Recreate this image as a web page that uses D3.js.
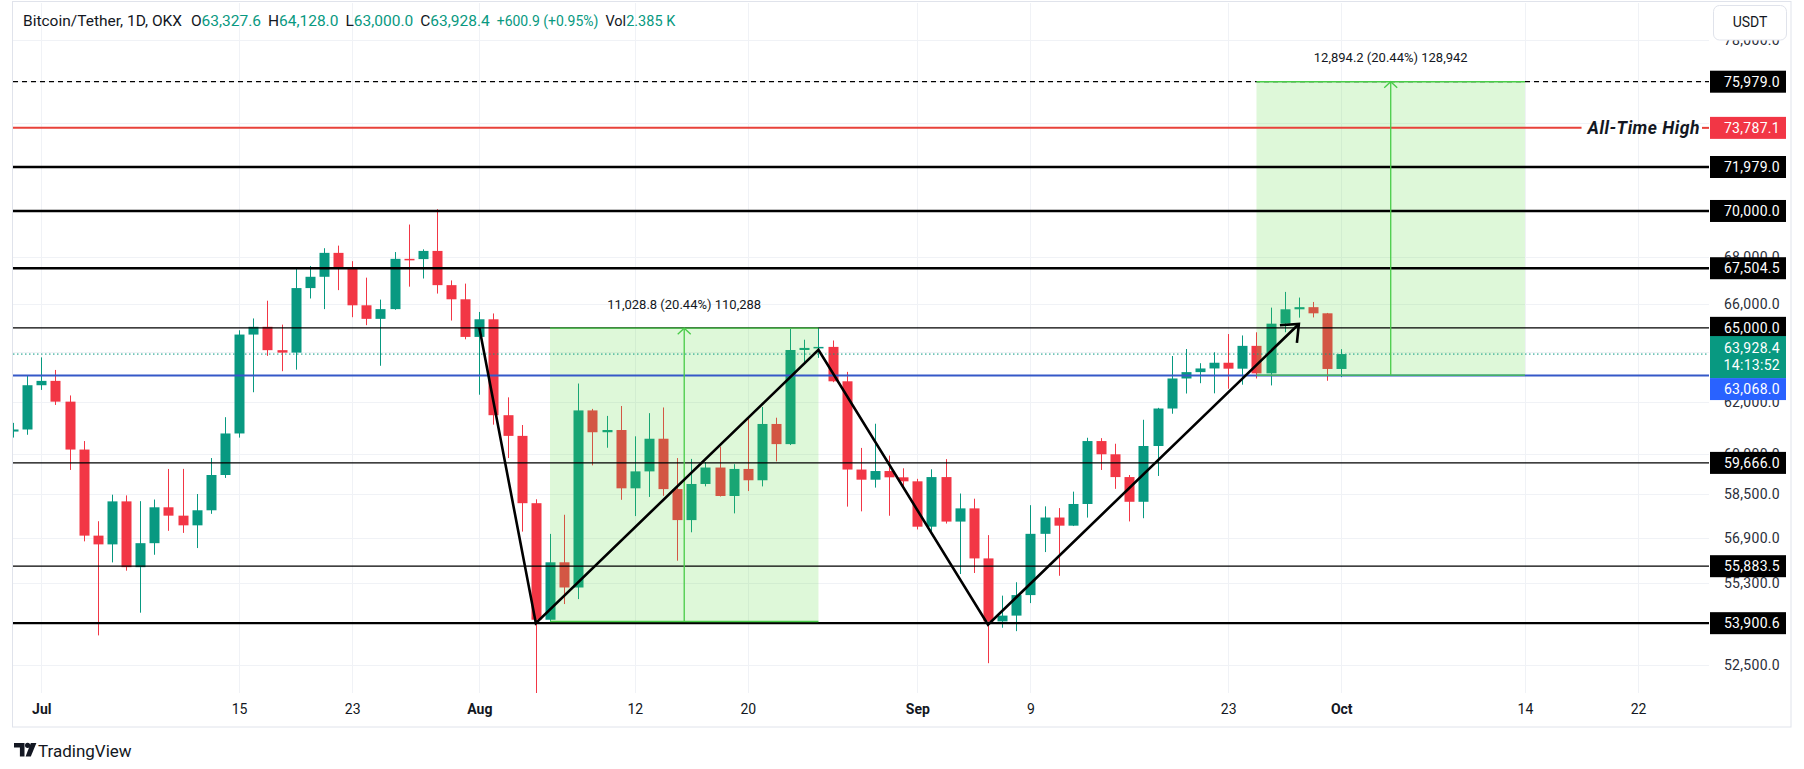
<!DOCTYPE html>
<html><head><meta charset="utf-8">
<script src="https://cdn.jsdelivr.net/npm/d3@7"></script>
<style>
body{margin:0;background:#fff;}
svg{display:block;font-family:Roboto,"Noto Sans",sans-serif;}
</style>
</head><body>
<svg id="chart" width="1804" height="769"></svg>
<script>
// ---------------- DATA ----------------
const dates = ["2024-06-29","2024-06-30","2024-07-01","2024-07-02","2024-07-03","2024-07-04","2024-07-05","2024-07-06","2024-07-07","2024-07-08","2024-07-09","2024-07-10","2024-07-11","2024-07-12","2024-07-13","2024-07-14","2024-07-15","2024-07-16","2024-07-17","2024-07-18","2024-07-19","2024-07-20","2024-07-21","2024-07-22","2024-07-23","2024-07-24","2024-07-25","2024-07-26","2024-07-27","2024-07-28","2024-07-29","2024-07-30","2024-07-31","2024-08-01","2024-08-02","2024-08-03","2024-08-04","2024-08-05","2024-08-06","2024-08-07","2024-08-08","2024-08-09","2024-08-10","2024-08-11","2024-08-12","2024-08-13","2024-08-14","2024-08-15","2024-08-16","2024-08-17","2024-08-18","2024-08-19","2024-08-20","2024-08-21","2024-08-22","2024-08-23","2024-08-24","2024-08-25","2024-08-26","2024-08-27","2024-08-28","2024-08-29","2024-08-30","2024-08-31","2024-09-01","2024-09-02","2024-09-03","2024-09-04","2024-09-05","2024-09-06","2024-09-07","2024-09-08","2024-09-09","2024-09-10","2024-09-11","2024-09-12","2024-09-13","2024-09-14","2024-09-15","2024-09-16","2024-09-17","2024-09-18","2024-09-19","2024-09-20","2024-09-21","2024-09-22","2024-09-23","2024-09-24","2024-09-25","2024-09-26","2024-09-27","2024-09-28","2024-09-29","2024-09-30","2024-10-01"];
const openP  = [60864,60943,62678,62851,62029,60173,56977,56662,58228,55849,56705,58010,57703,57350,57900,59210,60790,64724,65043,64087,63987,66660,67139,68165,67532,65936,65372,65777,67907,67896,68249,66784,66188,64628,65354,61498,60697,58161,54018,56022,55134,61685,60837,60923,58712,59346,60587,58683,57541,58874,59491,58427,59438,59013,61157,60381,64094,64178,64220,62834,59415,59034,59359,59123,58973,57301,59132,57487,57970,56160,53962,54160,54869,57042,57635,57338,58132,60498,59993,59132,58213,60309,61759,62947,63201,63348,63578,63339,64262,63152,65173,65769,65858,65602,63327.6];
const highP  = [61200,63058,63795,63288,62273,60498,57500,58475,58449,58236,58296,59437,59440,58500,59850,61420,64900,65388,66128,65133,67486,67598,68366,68479,67807,67102,66175,68200,69400,68318,70079,66984,66849,65659,65596,62198,61117,58305,57040,57736,62745,61744,61470,61858,60680,61578,61800,59849,59817,59700,60284,59618,61400,61820,61400,64955,64513,65000,64481,63212,60235,61166,59944,59462,59067,59425,59809,58519,58327,56995,54850,55318,58088,58044,57981,58588,60625,60610,60395,59210,61320,61786,63850,64133,63559,64000,64745,64688,64817,65839,66498,66260,66076,65618,64128.0];
const lowP   = [60632,60740,62492,61900,59400,56771,53485,56018,55724,54260,56290,57151,57076,56530,57770,59100,60630,62400,63856,63238,63300,66222,65777,66573,65441,65111,63456,65750,66720,67066,66428,65302,64530,62302,61130,59850,57122,49000,53962,54558,54730,59573,60242,58286,57688,58392,58433,56078,57098,58785,58408,57787,58610,58783,59724,60345,63520,63775,62800,58034,57861,58738,57700,58745,57201,57128,57415,55606,55643,52550,53745,53629,54591,56386,55545,57324,57632,59400,58692,57493,57610,59174,61555,62350,62758,62357,62538,62700,62947,62670,64819,65422,65432,62856,63000.0];
const closeP = [60943,62678,62851,62029,60173,56977,56662,58228,55849,56705,58010,57703,57350,57900,59210,60790,64724,65043,64087,63987,66660,67139,68165,67532,65936,65372,65777,67907,67896,68249,66784,66188,64628,65354,61498,60697,58161,54018,56022,55134,61685,60837,60923,58712,59346,60587,58683,57541,58874,59491,58427,59438,59013,61157,60381,64094,64178,64220,62834,59415,59034,59359,59123,58973,57301,59132,57487,57970,56160,53962,54160,54869,57042,57635,57338,58132,60498,59993,59132,58213,60309,61759,62947,63201,63348,63578,63339,64262,63152,65173,65769,65858,65602,63327.5,63928.4];

const priceTicks = [52500,53900,55300,56900,58500,60000,62000,64000,66000,68000,70000,72000,74000,76000,78000];
const timeTickDates  = ["2024-07-01","2024-07-15","2024-07-23","2024-08-01","2024-08-12","2024-08-20","2024-09-01","2024-09-09","2024-09-23","2024-10-01","2024-10-14","2024-10-22"];
const timeTickLabels = ["Jul","15","23","Aug","12","20","Sep","9","23","Oct","14","22"];
const monthLabels = ["Jul","Aug","Sep","Oct"];

// horizontal levels
const dashedLevel = 75979.0;
const thickLevels = [71979.0, 70000.0, 67504.5, 53900.6];
const thinLevels  = [65000.0, 59666.0, 55883.5];
const athPrice = 73787.1;
const athText = "All-Time High";
const blueLevel = 63068.0;
const countdown = "14:13:52";
const volumeText = "2.385 K";

// zig-zag drawing
const zigDates  = ["2024-08-01","2024-08-05","2024-08-25","2024-09-06","2024-09-28"];
const zigPrices = [65000, 53900.6, 64100, 53850, 65160];

// price range tools
const rangeStart = ["2024-08-06","2024-09-25"];
const rangeEnd   = ["2024-08-25","2024-10-14"];
const rangeFrom  = [53957.4, 63083.0];
const rangeTo    = [64986.2, 75977.2];

// ---------------- DRAWING ----------------
const parse = d3.utcParse("%Y-%m-%d");
const svg = d3.select("#chart");
const P = {left:13, right:1709, top:3, bottom:693};
const x = d3.scaleUtc().domain([parse("2024-07-01"), parse("2024-10-22")]).range([41.3, 1638]);
const y = d3.scaleLog().domain([52500, 75979]).range([664.7, 81.7]);
const fmt1 = d3.format(",.1f");
const UP = "#089981", DN = "#f23645", INK = "#131722";

svg.append("rect").attr("width",1804).attr("height",769).attr("fill","#fff");

svg.append("defs").append("clipPath").attr("id","plotclip")
  .append("rect").attr("x",P.left).attr("y",P.top).attr("width",P.right-P.left).attr("height",P.bottom-P.top);

// panel border
svg.append("rect").attr("x",12.5).attr("y",1.5).attr("width",1791-12.5).attr("height",727-1.5)
  .attr("fill","none").attr("stroke","#e0e3eb").attr("stroke-width",1);

const plot = svg.append("g").attr("clip-path","url(#plotclip)");

// grid
plot.append("g").selectAll("line").data(priceTicks).join("line")
  .attr("x1",P.left).attr("x2",P.right).attr("y1",d=>Math.round(y(d))+0.5).attr("y2",d=>Math.round(y(d))+0.5)
  .attr("stroke","#f0f2f6");
plot.append("g").selectAll("line").data(timeTickDates).join("line")
  .attr("y1",P.top).attr("y2",P.bottom).attr("x1",d=>Math.round(x(parse(d)))+0.5).attr("x2",d=>Math.round(x(parse(d)))+0.5)
  .attr("stroke","#f0f2f6");

// candles
const candles = dates.map((d,i)=>({date:parse(d),o:openP[i],h:highP[i],l:lowP[i],c:closeP[i]}));
const bw = 10;
const cg = plot.append("g").selectAll("g").data(candles).join("g");
cg.append("line")
  .attr("x1",d=>Math.round(x(d.date))+0.5).attr("x2",d=>Math.round(x(d.date))+0.5)
  .attr("y1",d=>y(d.h)).attr("y2",d=>y(d.l))
  .attr("stroke",d=>d.c>=d.o?UP:DN).attr("stroke-width",1);
cg.append("rect")
  .attr("x",d=>Math.round(x(d.date))+0.5-bw/2).attr("width",bw)
  .attr("y",d=>y(Math.max(d.o,d.c)))
  .attr("height",d=>Math.max(1.5,Math.abs(y(d.o)-y(d.c))))
  .attr("fill",d=>d.c>=d.o?UP:DN);

// price range fills
const ranges = rangeStart.map((s,i)=>({x0:x(parse(s)),x1:x(parse(rangeEnd[i])),from:rangeFrom[i],to:rangeTo[i]}));
plot.append("g").selectAll("rect").data(ranges).join("rect")
  .attr("x",d=>d.x0).attr("width",d=>d.x1-d.x0)
  .attr("y",d=>y(d.to)).attr("height",d=>y(d.from)-y(d.to))
  .attr("fill","rgba(88,222,64,0.2)");

// horizontal levels
function hline(g,p,color,w,dash){
  const yy=y(p);
  const l=g.append("line").attr("x1",P.left).attr("x2",P.right).attr("y1",yy).attr("y2",yy)
    .attr("stroke",color).attr("stroke-width",w);
  if(dash) l.attr("stroke-dasharray",dash);
  return l;
}
const lv = plot.append("g");
hline(lv,dashedLevel,"#000",1.2,"5,4");
thickLevels.forEach(p=>hline(lv,p,"#000",2.4));
thinLevels.forEach(p=>hline(lv,p,"#000",1.3));
// current price dotted
hline(lv,closeP[closeP.length-1],UP,1,"1.5,2.5");
// blue level
hline(lv,blueLevel,"#3558c8",2);

// ATH line with text gap
const athY = y(athPrice);
const athT = svg.append("text").attr("x",1700).attr("y",athY).attr("dy","0.35em")
  .attr("text-anchor","end").attr("font-size",17.5).attr("letter-spacing","0.5px").attr("font-weight","bold").attr("font-style","italic")
  .attr("fill",INK).text(athText);
const athW = athT.node().getComputedTextLength();
lv.append("line").attr("x1",P.left).attr("x2",1700-athW-6).attr("y1",athY).attr("y2",athY).attr("stroke","#e8423a").attr("stroke-width",2);
lv.append("line").attr("x1",1702).attr("x2",P.right).attr("y1",athY).attr("y2",athY).attr("stroke","#e8423a").attr("stroke-width",2);

// price range lines, arrows, labels
const rg = plot.append("g");
ranges.forEach(r=>{
  const g="#48cc48";
  const xm=(r.x0+r.x1)/2, yt=y(r.to), yb=y(r.from);
  rg.append("line").attr("x1",r.x0).attr("x2",r.x1).attr("y1",yt).attr("y2",yt).attr("stroke",g).attr("stroke-width",1.3);
  rg.append("line").attr("x1",r.x0).attr("x2",r.x1).attr("y1",yb).attr("y2",yb).attr("stroke",g).attr("stroke-width",1.3);
  rg.append("line").attr("x1",xm).attr("x2",xm).attr("y1",yb).attr("y2",yt).attr("stroke",g).attr("stroke-width",1.3);
  rg.append("path").attr("d",`M${xm-6.5},${yt+6}L${xm},${yt}L${xm+6.5},${yt+6}`).attr("fill","none").attr("stroke",g).attr("stroke-width",1.3);
  const diff=r.to-r.from, pct=diff/r.from*100, ticks=Math.round(diff*10);
  rg.append("text").attr("x",xm).attr("y",yt-19.5).attr("text-anchor","middle").attr("font-size",13).attr("fill",INK)
    .text(`${fmt1(diff)} (${pct.toFixed(2)}%) ${d3.format(",")(ticks)}`);
});

// zig-zag trend lines
const zig = zigDates.map((d,i)=>[x(parse(d)),y(zigPrices[i])]);
plot.append("path").attr("d",d3.line()(zig)).attr("fill","none").attr("stroke","#000").attr("stroke-width",2.6).attr("stroke-linejoin","miter");
{
  const [x1,y1]=zig[zig.length-2],[x2,y2]=zig[zig.length-1];
  const a=Math.atan2(y1-y2,x1-x2), L=19;
  const p1=[x2+L*Math.cos(a+Math.PI/4.5),y2+L*Math.sin(a+Math.PI/4.5)];
  const p2=[x2+L*Math.cos(a-Math.PI/4.5),y2+L*Math.sin(a-Math.PI/4.5)];
  plot.append("path").attr("d",`M${p1}L${x2},${y2}L${p2}`).attr("fill","none").attr("stroke","#000").attr("stroke-width",2.6);
}

// ---------- price axis ----------
const ax = svg.append("g").attr("transform","translate(1780,0)")
  .call(d3.axisRight(y).tickValues(priceTicks).tickFormat(fmt1).tickSize(0).tickPadding(0));
ax.select(".domain").remove();
ax.selectAll("text").attr("text-anchor","end").attr("x",0).attr("font-size",14).attr("letter-spacing","0.3px")
  .attr("fill","#2a2e39").attr("font-family","Roboto,'Noto Sans',sans-serif");

function priceLabel(p,bg,cy){
  const yy = cy===undefined? y(p): cy;
  svg.append("rect").attr("x",1710).attr("y",yy-11).attr("width",76).attr("height",22).attr("fill",bg);
  svg.append("text").attr("x",1780).attr("y",yy).attr("dy","0.35em").attr("text-anchor","end")
    .attr("font-size",14).attr("letter-spacing","0.3px").attr("fill","#fff").text(fmt1(p));
}
[dashedLevel,...thickLevels,...thinLevels].forEach(p=>priceLabel(p,"#000"));
priceLabel(athPrice,"#f23645");
// last price + countdown
{
  const lp = closeP[closeP.length-1], py=y(lp);
  svg.append("rect").attr("x",1710).attr("y",py-18).attr("width",76).attr("height",42).attr("fill",UP);
  svg.append("text").attr("x",1780).attr("y",py-6).attr("dy","0.35em").attr("text-anchor","end")
    .attr("font-size",14).attr("letter-spacing","0.3px").attr("fill","#fff").text(fmt1(lp));
  svg.append("text").attr("x",1780).attr("y",py+11).attr("dy","0.35em").attr("text-anchor","end")
    .attr("font-size",14).attr("letter-spacing","0.3px").attr("fill","#fff").text(countdown);
  priceLabel(blueLevel,"#2962ff",py+35);
}

// USDT button
svg.append("rect").attr("x",1713.5).attr("y",5.5).attr("width",73).attr("height",34.5).attr("rx",6)
  .attr("fill","#fff").attr("stroke","#e0e3eb");
svg.append("text").attr("x",1750).attr("y",22).attr("dy","0.35em").attr("text-anchor","middle")
  .attr("font-size",14).attr("fill",INK).text("USDT");

// ---------- time axis ----------
const tx = svg.append("g").attr("transform","translate(0,704)")
  .call(d3.axisBottom(x).tickValues(timeTickDates.map(parse)).tickFormat((d,i)=>timeTickLabels[i]).tickSize(0).tickPadding(0));
tx.select(".domain").remove();
tx.selectAll("text").attr("font-size",14).attr("fill",INK).attr("font-family","Roboto,'Noto Sans',sans-serif")
  .attr("font-weight",(d,i)=>monthLabels.includes(timeTickLabels[i])?"bold":"normal");

// ---------- header ----------
{
  const n=closeP.length, o=openP[n-1], h=highP[n-1], l=lowP[n-1], c=closeP[n-1], pc=closeP[n-2];
  const chg=c-pc, chgPct=chg/pc*100;
  const t = svg.append("text").attr("x",23).attr("y",25.5).attr("fill",INK);
  const parts=[["Bitcoin/Tether, 1D, OKX",INK,0,15.5],["O",INK,9,15.5],[fmt1(o),UP,0,15.5],["H",INK,7,15.5],[fmt1(h),UP,0,15.5],
    ["L",INK,7,15.5],[fmt1(l),UP,0,15.5],["C",INK,7,15.5],[fmt1(c),UP,0,15.5],
    [`${chg>=0?"+":""}${chg.toFixed(1)} (${chg>=0?"+":""}${chgPct.toFixed(2)}%)`,UP,7,14],
    ["Vol",INK,7,14.5],[volumeText,UP,0,14.5]];
  parts.forEach(([s,col,dx,fs])=>t.append("tspan").attr("dx",dx).attr("fill",col).attr("font-size",fs).text(s));
}

// ---------- logo ----------
{
  const g=svg.append("g").attr("fill","#131722");
  g.append("path").attr("d","M14,743h10.5v13.5h-4.6v-9H14z");
  g.append("circle").attr("cx",27.6).attr("cy",745.3).attr("r",2.6);
  g.append("path").attr("d","M30.8,743h5.6l-5.6,13.5h-5.2z");
  svg.append("text").attr("x",38).attr("y",757).attr("font-size",17).attr("fill",INK).text("TradingView");
}
</script>
</body></html>
